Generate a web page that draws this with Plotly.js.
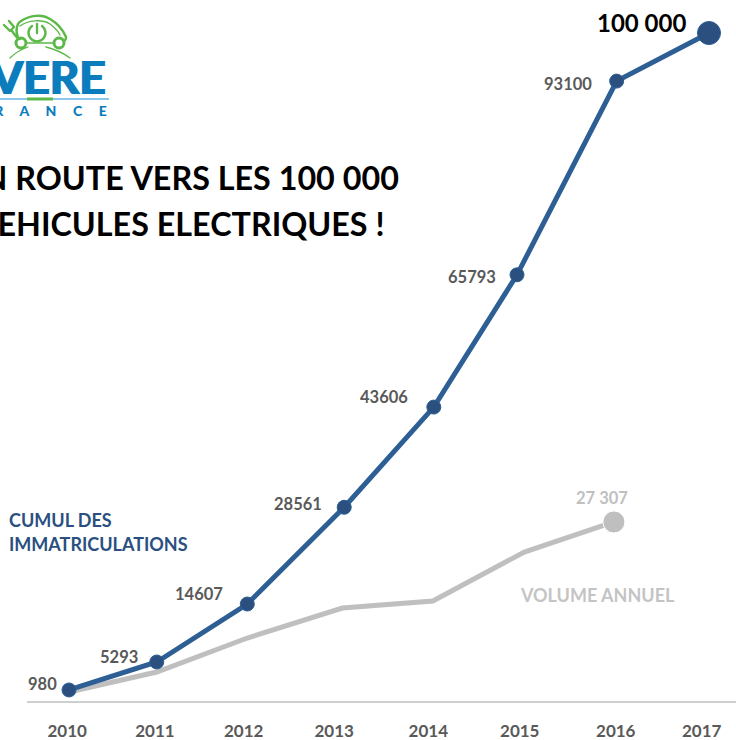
<!DOCTYPE html>
<html>
<head>
<meta charset="utf-8">
<script src="https://cdn.plot.ly/plotly-3.0.1.min.js"></script>
<style>html,body{margin:0;padding:0;background:#fff;overflow:hidden}#chart{width:736px;height:740px}</style>
</head>
<body>
<div id="chart"></div>
<script>
// Data
const cumulYears = [2010, 2010.96, 2011.95, 2013.01, 2013.99, 2014.90, 2015.99, 2017];
const cumulValues = [1650, 5840, 14520, 29000, 44000, 63800, 92800, 100000];
const cumulLabels = ['980', '5293', '14607', '28561', '43606', '65793', '93100', '100 000'];
const annualYears = [2010, 2010.96, 2011.95, 2012.99, 2013.98, 2014.98, 2015.96];
const annualValues = [1350, 4340, 9430, 13920, 14970, 22300, 26800];
const annualLastLabel = '27 307';
const tickPositions = [2009.98, 2010.94, 2011.91, 2012.90, 2013.93, 2014.93, 2015.98, 2016.92];
const tickLabels = ['2010', '2011', '2012', '2013', '2014', '2015', '2016', '2017'];

const W = 736, H = 740, BASE = 701;
const FONT = 'Lato, "Open Sans", sans-serif';
const px = x => x / W;
const py = y => 1 - y / BASE;

// [dx, dy] from each point to the label's right edge/centre
const cumulLabelShift = [[-10, 6], [-17, 5], [-22, 10], [-20, 3], [-24, 10], [-19, -2], [-23, -3], [-21, 11]];

const logoSvg = `<svg xmlns="http://www.w3.org/2000/svg" width="180" height="100" viewBox="0 0 180 100">
<g fill="none" stroke="#5cb947" stroke-linecap="round" stroke-linejoin="round">
<path stroke-width="2.4" d="M4 25l6 6 4-4-5-6M12 31c3 4 5 8 8 8"/>
<path stroke-width="2.4" d="M18 38C15 30 17 23 21 21C30 15 42 14 50 19C57 23 63 30 66 37C66 41 64 41 62 39"/>
<path stroke-width="1.4" d="M20 26C28 20 42 19 50 24C54 27 58 31 60 35"/>
<path stroke-width="1.6" d="M27 43h26"/>
<circle cx="21" cy="43" r="5" stroke-width="3"/>
<circle cx="59" cy="43" r="5" stroke-width="3"/>
<path stroke-width="2.4" d="M32 26A8.5 8.5 0 1 0 42 26M37 24v9"/>
<path stroke-width="1.3" d="M10 58C16 52 22 49 28 47M46 47C54 49 62 52 70 58"/>
</g>
</svg>`;
const logoLine = `<svg xmlns="http://www.w3.org/2000/svg" width="110" height="4" viewBox="0 0 110 4">
<rect x="0" y="1" width="109" height="2" fill="#8cc8ea"/>
<rect x="27" y="0.5" width="26" height="3" fill="#5cb947"/>
</svg>`;

function note(text, xPx, yPx, size, color, anchor, family, weight, shadow) {
  const font = {family: family || FONT, size, color, weight: weight || 700};
  if (shadow) font.shadow = shadow;
  return {
    text, x: px(xPx), y: py(yPx), xref: 'paper', yref: 'paper',
    xanchor: anchor, yanchor: 'middle', showarrow: false, align: anchor,
    font
  };
}

const NB = '\u00a0\u00a0\u00a0\u00a0\u00a0';
const annotations = [
  note('EN ROUTE VERS LES 100 000', 401, 177, 32.3, '#000000', 'right'),
  note('VEHICULES ELECTRIQUES !', 387, 223, 32.3, '#000000', 'right'),
  note('CUMUL DES', 7, 520, 18, '#2a4f80', 'left'),
  note('IMMATRICULATIONS', 7, 544, 18, '#2a4f80', 'left'),
  note('VOLUME ANNUEL', 677, 595, 18, '#c4c4c4', 'right'),
  note('AVERE', 108, 77, 46, '#0b7dbd', 'right', '"Liberation Sans Narrow", Lato, sans-serif', 700, '1px 0 0 #0b7dbd, -1px 0 0 #0b7dbd'),
  note(['F', 'R', 'A', 'N', 'C', 'E'].join(NB), 109, 111, 14, '#0b7dbd', 'right', FONT, 900)
];

cumulLabels.forEach((t, i) => {
  const last = i === cumulLabels.length - 1;
  annotations.push({
    text: t, x: cumulYears[i], y: cumulValues[i], xref: 'x', yref: 'y',
    xanchor: 'right', yanchor: 'middle', showarrow: false,
    xshift: cumulLabelShift[i][0], yshift: cumulLabelShift[i][1],
    font: {family: FONT, size: last ? 24 : 16.5, color: last ? '#000000' : '#595959', weight: 700}
  });
});
annotations.push({
  text: annualLastLabel, x: annualYears[annualYears.length - 1], y: annualValues[annualValues.length - 1],
  xref: 'x', yref: 'y', xanchor: 'center', yanchor: 'middle', showarrow: false,
  xshift: -12, yshift: 24,
  font: {family: FONT, size: 16.5, color: '#c0c0c0', weight: 700}
});

const traces = [
  {
    x: annualYears, y: annualValues, type: 'scatter', mode: 'lines+markers', cliponaxis: false,
    line: {color: '#bfbfbf', width: 5},
    marker: {color: '#bfbfbf', opacity: 1, size: annualYears.map((_, i) => i === annualYears.length - 1 ? 22 : 0.1)},
    hoverinfo: 'skip'
  },
  {
    x: cumulYears, y: cumulValues, type: 'scatter', mode: 'lines+markers', cliponaxis: false,
    line: {color: '#2d5f94', width: 5},
    marker: {color: '#2b4f7e', opacity: 1, size: cumulYears.map((_, i) => i === cumulYears.length - 1 ? 23 : 14)},
    hoverinfo: 'skip'
  }
];

const layout = {
  width: W, height: H,
  margin: {l: 0, r: 0, t: 0, b: H - BASE, pad: 0},
  paper_bgcolor: '#ffffff', plot_bgcolor: '#ffffff',
  showlegend: false,
  xaxis: {
    domain: [27 / W, 1],
    range: [2010 - 42 / 91.43, 2017 + 27 / 91.43],
    tickmode: 'array', tickvals: tickPositions, ticktext: tickLabels,
    ticks: '', showgrid: false, zeroline: false,
    showline: true, linecolor: '#cfcfcf', linewidth: 2,
    ticklabelstandoff: 14,
    tickfont: {family: FONT, size: 17, color: '#595959', weight: 700}
  },
  yaxis: {
    range: [0, BASE / 0.00668], visible: false, showgrid: false, zeroline: false
  },
  annotations,
  images: [
    {source: 'data:image/svg+xml;utf8,' + encodeURIComponent(logoSvg), xref: 'paper', yref: 'paper',
     x: 0, y: 1, sizex: 180 / W, sizey: 100 / BASE, xanchor: 'left', yanchor: 'top', sizing: 'stretch', layer: 'above'},
    {source: 'data:image/svg+xml;utf8,' + encodeURIComponent(logoLine), xref: 'paper', yref: 'paper',
     x: 0, y: py(97), sizex: 110 / W, sizey: 4 / BASE, xanchor: 'left', yanchor: 'top', sizing: 'stretch', layer: 'above'}
  ]
};

Plotly.newPlot('chart', traces, layout, {displayModeBar: false, staticPlot: true});
</script>
</body>
</html>
